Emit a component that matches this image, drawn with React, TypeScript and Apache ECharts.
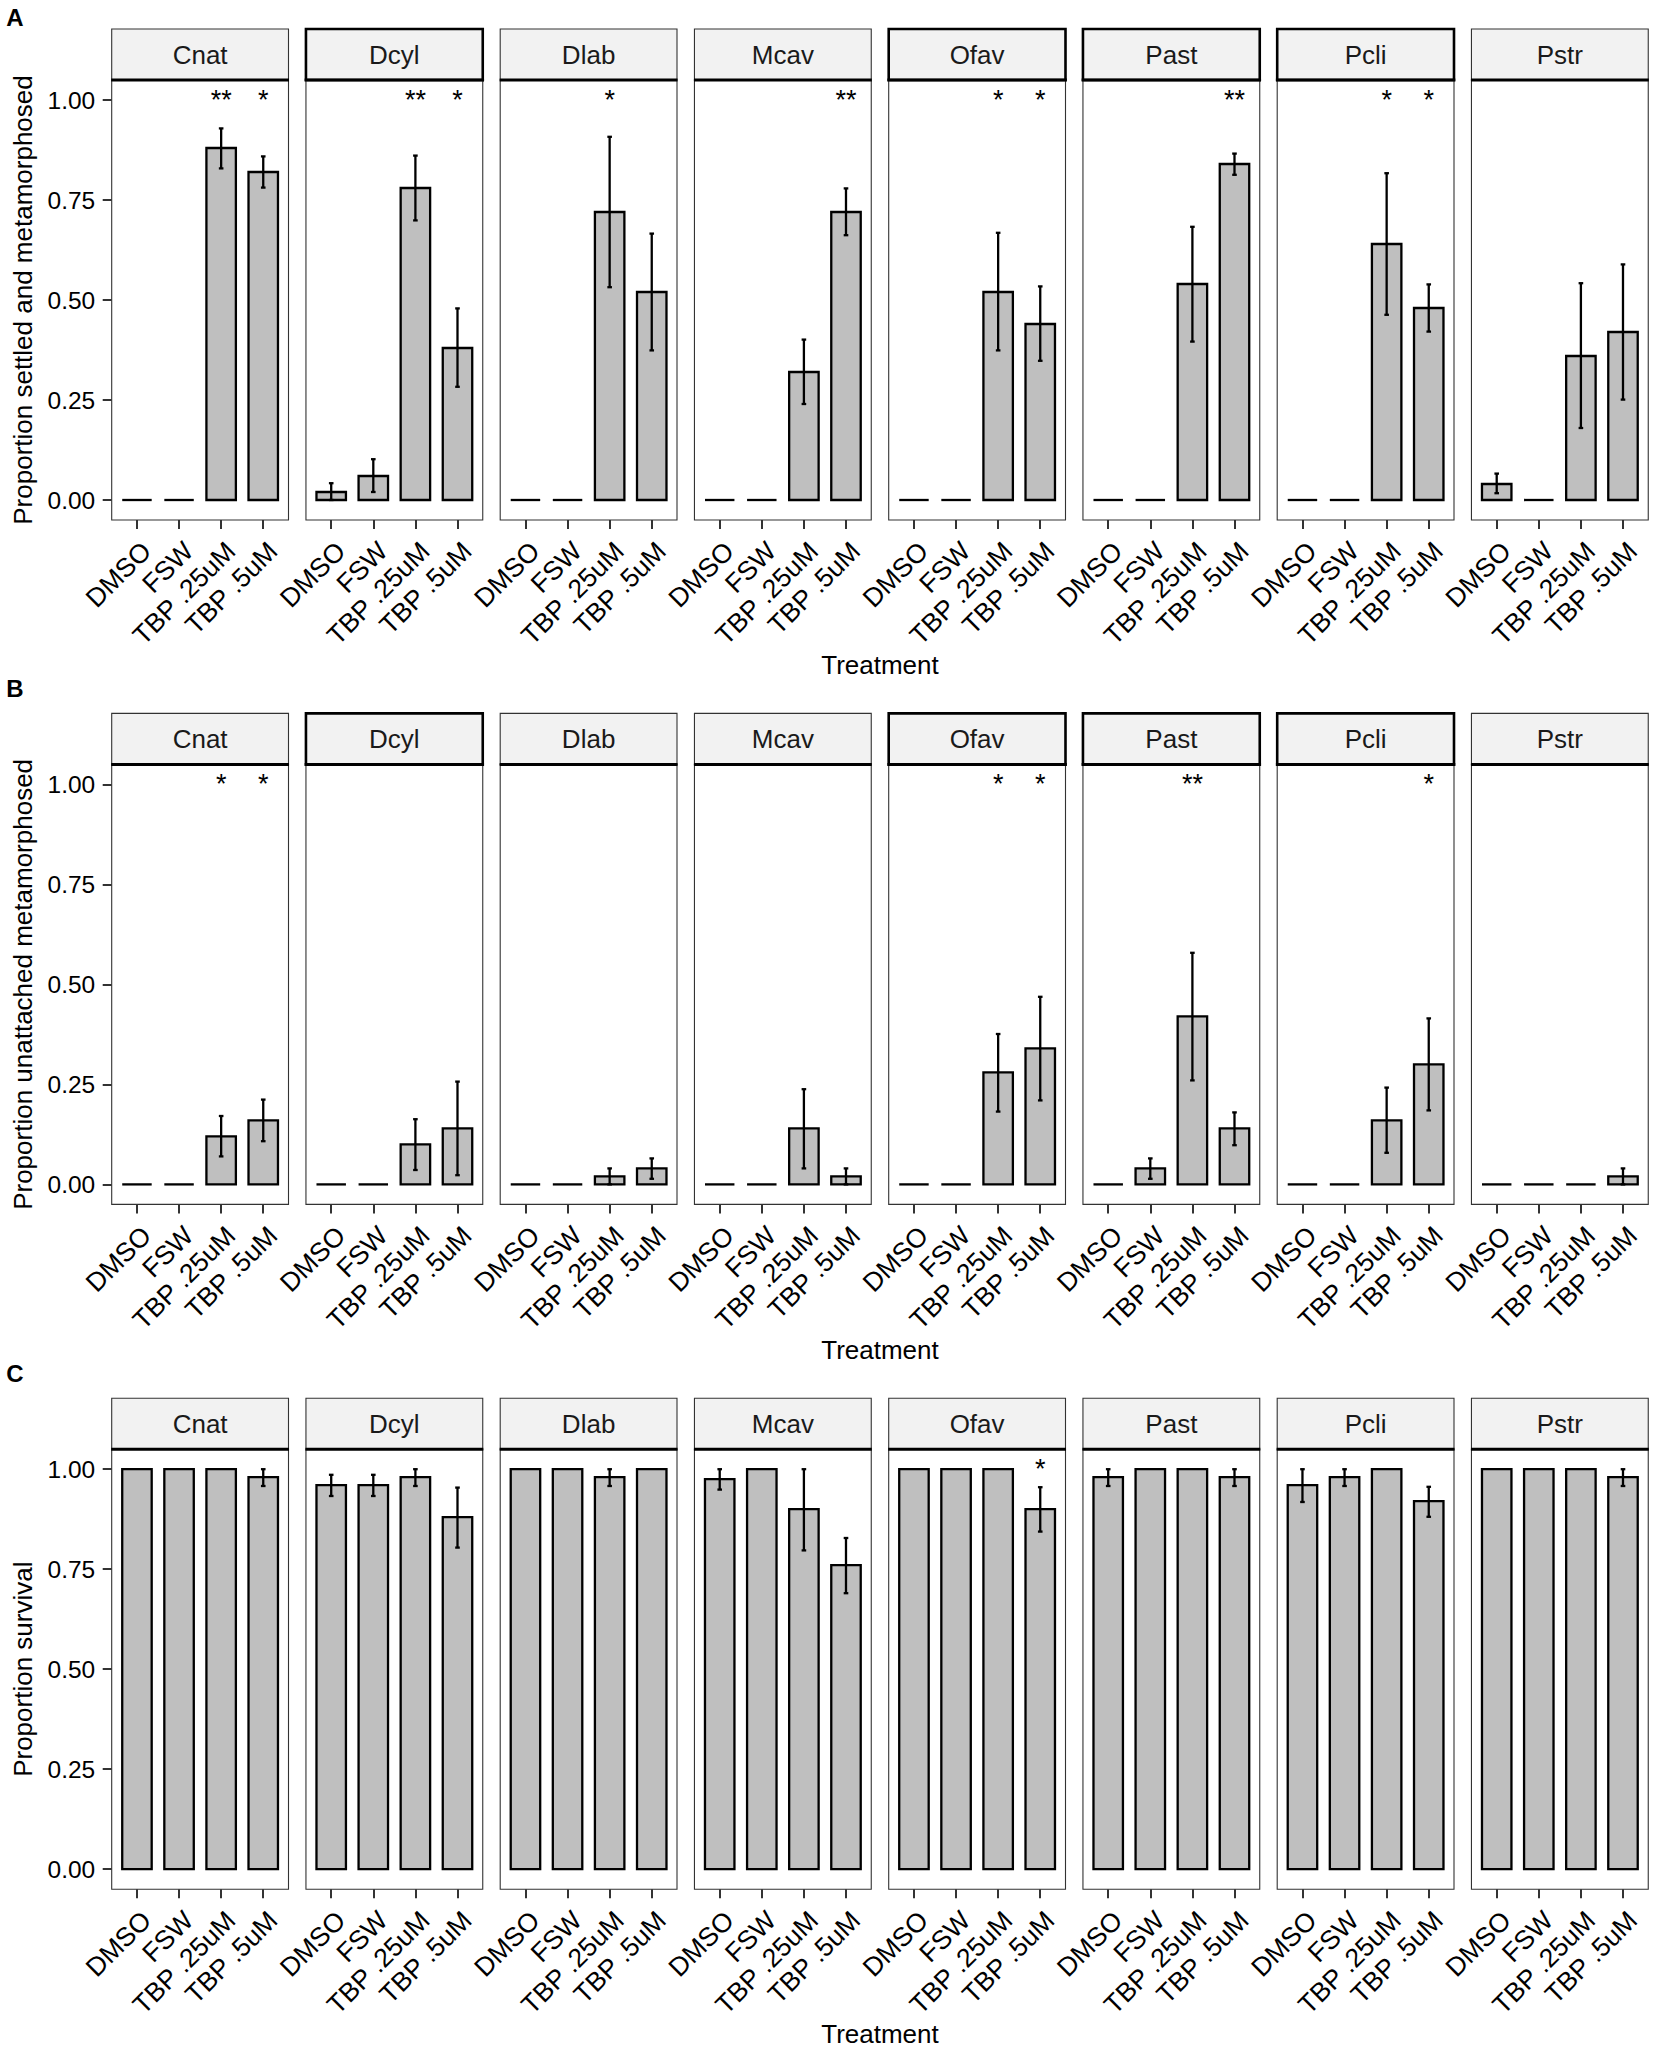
import React, { useEffect, useRef } from 'react';
import * as echarts from 'echarts';

const species = ['Cnat', 'Dcyl', 'Dlab', 'Mcav', 'Ofav', 'Past', 'Pcli', 'Pstr'];
const treatments = ['DMSO', 'FSW', 'TBP .25uM', 'TBP .5uM'];
const yTickValues = [0, 0.25, 0.5, 0.75, 1];
const STAR_LEVEL = 1.0;

// Panel A: proportion settled and metamorphosed
const settledMean = [
  [0, 0, 0.88, 0.82],
  [0.02, 0.06, 0.78, 0.38],
  [0, 0, 0.72, 0.52],
  [0, 0, 0.32, 0.72],
  [0, 0, 0.52, 0.44],
  [0, 0, 0.54, 0.84],
  [0, 0, 0.64, 0.48],
  [0.04, 0, 0.36, 0.42],
];
const settledLow = [
  [0, 0, 0.829, 0.781],
  [0, 0.02, 0.699, 0.283],
  [0, 0, 0.532, 0.374],
  [0, 0, 0.24, 0.662],
  [0, 0, 0.374, 0.348],
  [0, 0, 0.396, 0.813],
  [0, 0, 0.463, 0.421],
  [0.017, 0, 0.18, 0.251],
];
const settledHigh = [
  [0, 0, 0.929, 0.859],
  [0.042, 0.102, 0.861, 0.479],
  [0, 0, 0.908, 0.666],
  [0, 0, 0.401, 0.779],
  [0, 0, 0.668, 0.534],
  [0, 0, 0.683, 0.866],
  [0, 0, 0.817, 0.539],
  [0.066, 0, 0.542, 0.589],
];
const settledStars = [
  ['', '', '**', '*'],
  ['', '', '**', '*'],
  ['', '', '*', ''],
  ['', '', '', '**'],
  ['', '', '*', '*'],
  ['', '', '', '**'],
  ['', '', '*', '*'],
  ['', '', '', ''],
];
const settledThickStrips = ['Dcyl', 'Ofav', 'Past', 'Pcli'];

// Panel B: proportion unattached metamorphosed
const unattachedMean = [
  [0, 0, 0.12, 0.16],
  [0, 0, 0.1, 0.14],
  [0, 0, 0.02, 0.04],
  [0, 0, 0.14, 0.02],
  [0, 0, 0.28, 0.34],
  [0, 0.04, 0.42, 0.14],
  [0, 0, 0.16, 0.3],
  [0, 0, 0, 0.02],
];
const unattachedLow = [
  [0, 0, 0.07, 0.108],
  [0, 0, 0.036, 0.023],
  [0, 0, 0, 0.014],
  [0, 0, 0.04, 0],
  [0, 0, 0.182, 0.21],
  [0, 0.014, 0.26, 0.098],
  [0, 0, 0.079, 0.185],
  [0, 0, 0, 0],
];
const unattachedHigh = [
  [0, 0, 0.171, 0.212],
  [0, 0, 0.163, 0.257],
  [0, 0, 0.04, 0.065],
  [0, 0, 0.238, 0.04],
  [0, 0, 0.376, 0.469],
  [0, 0.065, 0.579, 0.18],
  [0, 0, 0.242, 0.415],
  [0, 0, 0, 0.04],
];
const unattachedStars = [
  ['', '', '*', '*'],
  ['', '', '', ''],
  ['', '', '', ''],
  ['', '', '', ''],
  ['', '', '*', '*'],
  ['', '', '**', ''],
  ['', '', '', '*'],
  ['', '', '', ''],
];
const unattachedThickStrips = ['Dcyl', 'Ofav', 'Past', 'Pcli'];

// Panel C: proportion survival
const survivalMean = [
  [1, 1, 1, 0.98],
  [0.96, 0.96, 0.98, 0.88],
  [1, 1, 0.98, 1],
  [0.975, 1, 0.9, 0.76],
  [1, 1, 1, 0.9],
  [0.98, 1, 1, 0.98],
  [0.96, 0.98, 1, 0.92],
  [1, 1, 1, 0.98],
];
const survivalLow = [
  [1, 1, 1, 0.958],
  [0.933, 0.933, 0.958, 0.804],
  [1, 1, 0.958, 1],
  [0.949, 1, 0.797, 0.69],
  [1, 1, 1, 0.844],
  [0.958, 1, 1, 0.958],
  [0.918, 0.958, 1, 0.881],
  [1, 1, 1, 0.958],
];
const survivalHigh = [
  [1, 1, 1, 1],
  [0.986, 0.986, 1, 0.954],
  [1, 1, 1, 1],
  [1, 1, 1, 0.828],
  [1, 1, 1, 0.955],
  [1, 1, 1, 1],
  [1, 1, 1, 0.956],
  [1, 1, 1, 1],
];
const survivalStars = [
  ['', '', '', ''],
  ['', '', '', ''],
  ['', '', '', ''],
  ['', '', '', ''],
  ['', '', '', '*'],
  ['', '', '', ''],
  ['', '', '', ''],
  ['', '', '', ''],
];
const survivalThickStrips: string[] = [];

const rows = [
  { letter: 'A', yTitle: 'Proportion settled and metamorphosed', mean: settledMean, low: settledLow, high: settledHigh, stars: settledStars, thick: settledThickStrips },
  { letter: 'B', yTitle: 'Proportion unattached metamorphosed', mean: unattachedMean, low: unattachedLow, high: unattachedHigh, stars: unattachedStars, thick: unattachedThickStrips },
  { letter: 'C', yTitle: 'Proportion survival', mean: survivalMean, low: survivalLow, high: survivalHigh, stars: survivalStars, thick: survivalThickStrips },
];

// layout
const FONT = '"Liberation Sans", Arial, Helvetica, sans-serif';
const PANEL_X0 = 111.7;
const PANEL_PITCH = 194.25;
const PANEL_W = 176.8;
const PANEL_TOPS = [80, 764.4, 1449.2];
const PANEL_H = 440;
const STRIP_H = 51;
const INSET = (PANEL_W * 0.1) / 4.2;
const LETTER_Y = [17, 688, 1373];
const XTITLE_Y = [665, 1349.6, 2034];

function makeRenderItem(stars: string[]) {
  return (params: any, api: any) => {
    const i = api.value(0);
    const v = api.value(1);
    const lo = api.value(2);
    const hi = api.value(3);
    const base = api.coord([i, 0]);
    const top = api.coord([i, v]);
    const band = api.size([1, 0])[0];
    const bw = band * 0.7;
    const children: any[] = [];
    if (v > 0) {
      children.push({
        type: 'rect',
        shape: { x: base[0] - bw / 2, y: top[1], width: bw, height: base[1] - top[1] },
        style: { fill: '#bfbfbf', stroke: '#000', lineWidth: 2.3 },
      });
    } else {
      children.push({
        type: 'line',
        shape: { x1: base[0] - bw / 2, y1: base[1], x2: base[0] + bw / 2, y2: base[1] },
        style: { stroke: '#000', lineWidth: 2.3 },
      });
    }
    const pLo = api.coord([i, lo]);
    const pHi = api.coord([i, hi]);
    if (hi > lo) {
      children.push({
        type: 'line',
        shape: { x1: pLo[0], y1: pLo[1], x2: pHi[0], y2: pHi[1] },
        style: { stroke: '#000', lineWidth: 2.3 },
      });
      children.push({
        type: 'line',
        shape: { x1: pLo[0] - 2.3, y1: pLo[1], x2: pLo[0] + 2.3, y2: pLo[1] },
        style: { stroke: '#000', lineWidth: 2.3 },
      });
      children.push({
        type: 'line',
        shape: { x1: pHi[0] - 2.3, y1: pHi[1], x2: pHi[0] + 2.3, y2: pHi[1] },
        style: { stroke: '#000', lineWidth: 2.3 },
      });
    }
    const s = stars[params.dataIndex];
    if (s) {
      const ps = api.coord([i, STAR_LEVEL]);
      children.push({
        type: 'text',
        x: ps[0],
        y: ps[1],
        style: {
          text: s,
          fontSize: 27,
          fontFamily: FONT,
          fill: '#000',
          align: 'center',
          verticalAlign: 'middle',
          textAlign: 'center',
          textVerticalAlign: 'middle',
        },
      });
    }
    return { type: 'group', children };
  };
}

function buildOption() {
  const grid: any[] = [];
  const xAxis: any[] = [];
  const yAxis: any[] = [];
  const series: any[] = [];
  const graphic: any[] = [];

  rows.forEach((row, r) => {
    const panelTop = PANEL_TOPS[r];
    species.forEach((sp, c) => {
      const k = r * species.length + c;
      const px = PANEL_X0 + c * PANEL_PITCH;
      grid.push({ left: px + INSET, top: panelTop, width: PANEL_W - 2 * INSET, height: PANEL_H, containLabel: false });
      xAxis.push({
        gridIndex: k,
        type: 'category',
        data: treatments,
        axisLine: { show: false, onZero: false },
        axisTick: { show: true, alignWithLabel: true, length: 9, lineStyle: { color: '#333', width: 2 } },
        axisLabel: {
          interval: 0,
          rotate: 45,
          fontSize: 26.5,
          fontFamily: FONT,
          color: '#000',
          margin: 17,
          align: 'right',
          verticalAlign: 'top',
        },
        splitLine: { show: false },
      });
      yAxis.push({
        gridIndex: k,
        type: 'value',
        min: -0.05,
        max: 1.05,
        offset: c === 0 ? INSET : 0,
        axisLine: { show: false },
        axisTick: { show: c === 0, length: 9, customValues: yTickValues, lineStyle: { color: '#333', width: 2 } },
        axisLabel: {
          show: c === 0,
          customValues: yTickValues,
          formatter: (v: number) => v.toFixed(2),
          fontSize: 24.5,
          fontFamily: FONT,
          color: '#000',
          margin: 16.5,
        },
        splitLine: { show: false },
      });
      series.push({
        type: 'custom',
        xAxisIndex: k,
        yAxisIndex: k,
        clip: false,
        encode: { x: 0, y: 1 },
        data: treatments.map((t, i) => [i, row.mean[c][i], row.low[c][i], row.high[c][i]]),
        renderItem: makeRenderItem(row.stars[c]),
      });
      const thick = row.thick.includes(sp);
      graphic.push({
        type: 'rect',
        z: 10,
        shape: { x: px, y: panelTop - STRIP_H, width: PANEL_W, height: STRIP_H },
        style: { fill: '#f2f2f2', stroke: thick ? '#000' : '#333', lineWidth: thick ? 2.6 : 1.1 },
      });
      graphic.push({
        type: 'text',
        z: 11,
        x: px + PANEL_W / 2,
        y: panelTop - STRIP_H / 2,
        style: {
          text: sp,
          fontSize: 26,
          fontFamily: FONT,
          fill: '#1a1a1a',
          align: 'center',
          verticalAlign: 'middle',
          textAlign: 'center',
          textVerticalAlign: 'middle',
        },
      });
      graphic.push({
        type: 'rect',
        z: 10,
        shape: { x: px, y: panelTop, width: PANEL_W, height: PANEL_H },
        style: { fill: 'none', stroke: '#333', lineWidth: 1.1 },
      });
      graphic.push({
        type: 'line',
        z: 12,
        shape: { x1: px - (thick ? 1.3 : 0.5), y1: panelTop, x2: px + PANEL_W + (thick ? 1.3 : 0.5), y2: panelTop },
        style: { stroke: '#000', lineWidth: 3 },
      });
    });
    graphic.push({
      type: 'text',
      z: 11,
      x: 22.5,
      y: panelTop + PANEL_H / 2,
      rotation: Math.PI / 2,
      style: {
        text: row.yTitle,
        fontSize: 26,
        fontFamily: FONT,
        fill: '#000',
        align: 'center',
        verticalAlign: 'middle',
        textAlign: 'center',
        textVerticalAlign: 'middle',
      },
    });
    graphic.push({
      type: 'text',
      z: 11,
      x: PANEL_X0 + (7 * PANEL_PITCH + PANEL_W) / 2,
      y: XTITLE_Y[r],
      style: {
        text: 'Treatment',
        fontSize: 26,
        fontFamily: FONT,
        fill: '#000',
        align: 'center',
        verticalAlign: 'middle',
        textAlign: 'center',
        textVerticalAlign: 'middle',
      },
    });
    graphic.push({
      type: 'text',
      z: 11,
      x: 15,
      y: LETTER_Y[r],
      style: {
        text: row.letter,
        fontSize: 24,
        fontWeight: 'bold',
        fontFamily: FONT,
        fill: '#000',
        align: 'center',
        verticalAlign: 'middle',
        textAlign: 'center',
        textVerticalAlign: 'middle',
      },
    });
  });

  return {
    animation: false,
    backgroundColor: '#ffffff',
    grid,
    xAxis,
    yAxis,
    series,
    graphic: { elements: graphic },
  };
}

export default function App() {
  const ref = useRef<HTMLDivElement>(null);
  useEffect(() => {
    if (!ref.current) return;
    const chart = echarts.init(ref.current, undefined, { renderer: 'svg' });
    chart.setOption(buildOption() as any);
    return () => {
      chart.dispose();
    };
  }, []);
  return <div ref={ref} style={{ position: 'absolute', left: 0, top: 0, width: 1654, height: 2049 }} />;
}
